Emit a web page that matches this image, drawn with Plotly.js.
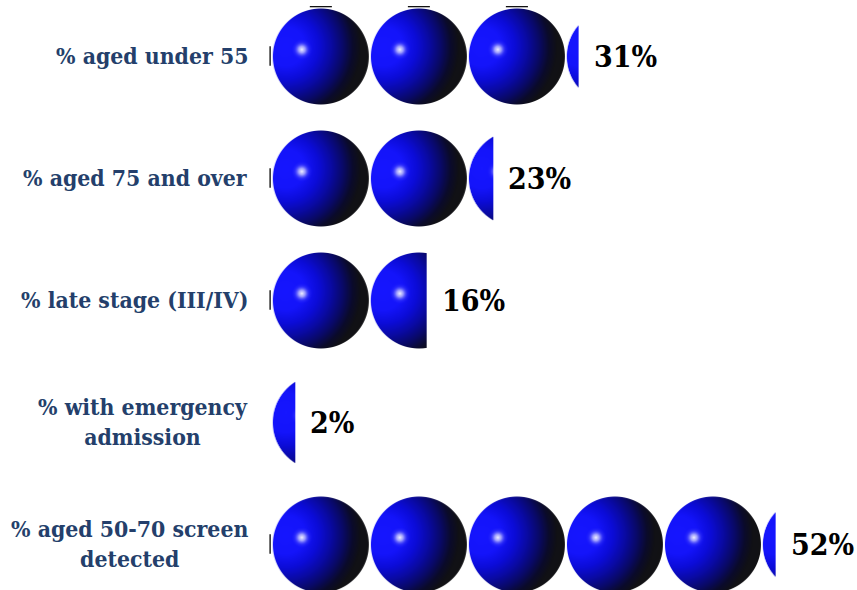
<!DOCTYPE html>
<html><head><meta charset="utf-8">
<script src="https://cdn.plot.ly/plotly-3.0.1.min.js"></script>
<style>html,body{margin:0;padding:0;background:#fff}#c{width:857px;height:590px}</style>
</head><body><div id="c"></div>
<script>
const categories = ["% aged under 55","% aged 75 and over","% late stage (III/IV)","% with emergency<br>admission","% aged 50-70 screen<br>detected"];
const values = [31.4,22.7,15.9,2.5,51.5];
const valueLabels = ["31%","23%","16%","2%","52%"];
const unitPerSphere = 10;

const S = 4, TW = 98, TH = 100;
function sphereCanvas(fraction, topSliver){
  const c = document.createElement('canvas');
  c.width = Math.max(1, Math.round(TW*S*fraction)); c.height = TH*S;
  const g = c.getContext('2d');
  g.scale(S,S);
  const cx = 50, cy = 50.5, r = 48;
  if(topSliver){ g.fillStyle = '#111'; g.fillRect(39,0,22,1.3); }
  const gx = cx-35, gy = cy-10;
  const b = g.createRadialGradient(gx,gy,0,gx,gy,100);
  b.addColorStop(0,'#1616ff');
  b.addColorStop(0.2,'#1414fa');
  b.addColorStop(0.33,'#0c0cd8');
  b.addColorStop(0.46,'#0a0aa0');
  b.addColorStop(0.57,'#090968');
  b.addColorStop(0.67,'#0b0b2c');
  b.addColorStop(0.75,'#111116');
  b.addColorStop(1,'#111111');
  g.fillStyle = b;
  g.beginPath(); g.arc(cx,cy,r,0,Math.PI*2); g.fill();
  const hx = cx-19, hy = cy-7;
  const h = g.createRadialGradient(hx,hy,0,hx,hy,11);
  h.addColorStop(0,'rgba(255,255,255,0.95)');
  h.addColorStop(0.3,'rgba(205,205,255,0.75)');
  h.addColorStop(0.65,'rgba(90,90,255,0.3)');
  h.addColorStop(1,'rgba(22,22,255,0)');
  g.fillStyle = h;
  g.beginPath(); g.arc(hx,hy,11,0,Math.PI*2); g.fill();
  return c.toDataURL('image/png');
}
const images = [], shapes = [];
values.forEach((v,i)=>{
  let start = 0;
  while(start < v - 1e-9){
    const w = Math.min(unitPerSphere, v-start);
    images.push({source:sphereCanvas(w/unitPerSphere, i===0 && w===unitPerSphere),xref:'x',yref:'y',x:start,y:i,
      sizex:w,sizey:TH/122,xanchor:'left',yanchor:'middle',sizing:'stretch',layer:'above'});
    start += unitPerSphere;
  }
  if(v > unitPerSphere/2){
    shapes.push({type:'rect',xref:'x',yref:'y',x0:-0.14,x1:0,y0:i-0.08,y1:i+0.08,
      fillcolor:'#111',line:{width:0},layer:'above'});
  }
});
const labelFont = {family:'"DejaVu Serif Condensed","DejaVu Serif",serif',size:22.8,color:'#243f6b'};
const valueFont = {family:'"DejaVu Serif Condensed","DejaVu Serif",serif',size:30,color:'#000'};
const annotations = [];
categories.forEach((t,i)=>{
  annotations.push({xref:'paper',yref:'y',x:0,y:i,xanchor:'right',yanchor:'middle',xshift:-11.2,yshift:0.5,
    text:'<b>'+t+'</b>',align:'center',showarrow:false,font:labelFont});
  annotations.push({xref:'x',yref:'y',x:values[i],y:i,xanchor:'left',yanchor:'middle',xshift:13,yshift:-0.5,
    text:'<b>'+valueLabels[i]+'</b>',showarrow:false,font:valueFont});
});
Plotly.newPlot('c',[{type:'bar',orientation:'h',x:values,y:categories,
  marker:{color:'rgba(0,0,0,0)'},hoverinfo:'skip',showlegend:false}],{
  width:857,height:590,margin:{l:261.2,r:0,t:0,b:0,pad:0},
  paper_bgcolor:'#fff',plot_bgcolor:'#fff',showlegend:false,
  xaxis:{range:[-1,59.8],visible:false,fixedrange:true},
  yaxis:{type:'category',categoryorder:'array',categoryarray:categories,range:[4.377,-0.459],
    showticklabels:false,showgrid:false,zeroline:false,showline:false,ticks:'',fixedrange:true},
  images:images,shapes:shapes,annotations:annotations
},{displayModeBar:false,staticPlot:true});
</script></body></html>
